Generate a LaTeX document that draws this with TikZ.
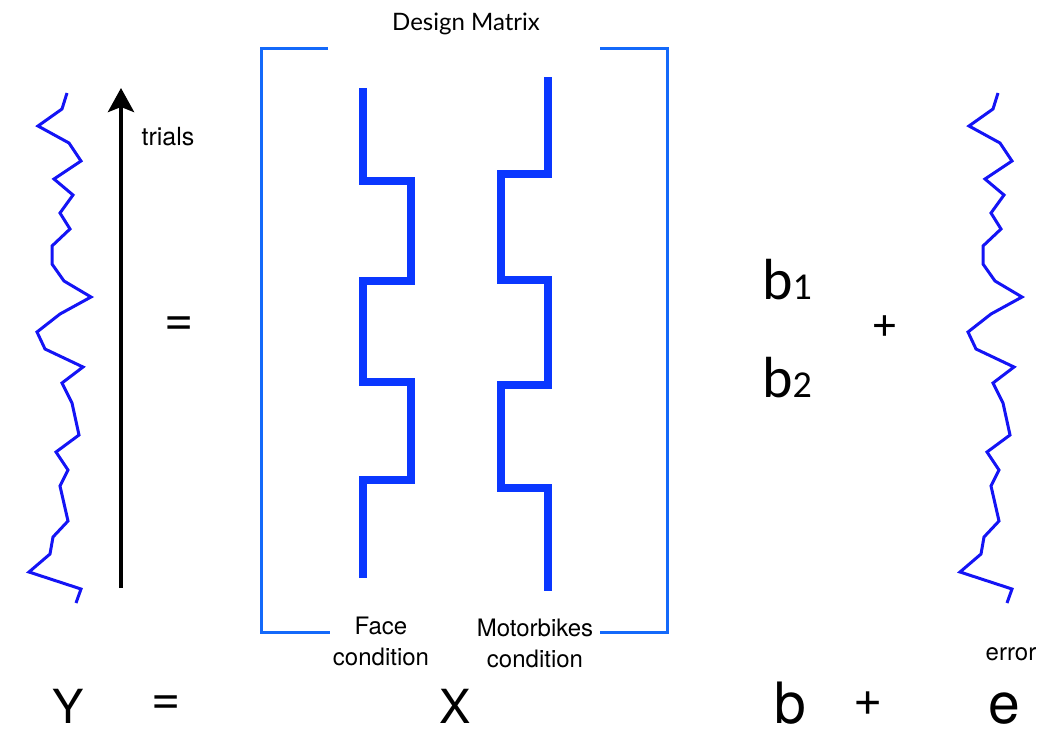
\documentclass[tikz,border=0pt]{standalone}
\usepackage{fontspec}
\setmainfont{TeX Gyre Heros}
\newfontfamily\gillfont{Lato}
\newfontfamily\calfont{Carlito}
\usetikzlibrary{arrows.meta}
\definecolor{signalblue}{RGB}{20,20,245}
\definecolor{bracketblue}{RGB}{20,105,250}
\definecolor{regblue}{RGB}{10,55,255}
\newcommand{\fsz}[1]{\fontsize{#1}{#1}\selectfont}

\begin{document}
\begin{tikzpicture}[x=1pt, y=-1pt]
        \tikzstyle{signal}=[signalblue, line width=3pt, line join=miter]
        \tikzstyle{bracket}=[bracketblue, line width=3pt, line join=miter]
        \tikzstyle{regressor}=[regblue, line width=8pt, line join=miter]
        \tikzstyle{label}=[inner sep=0pt, anchor=base]
        \tikzstyle{symbol}=[inner sep=0pt, anchor=center]
        \useasboundingbox (0,0) rectangle (1043,734);
        % measured signal (left) and error (right)
        \foreach \dx/\nm in {0pt/data, 931pt/noise}{
            \begin{scope}[xshift=\dx, local bounding box=\nm]
                \draw[signal] (67,93) -- (62,109) -- (38,126) -- (69,143) -- (81,161)
                    -- (54,179) -- (73,195) -- (60,213) -- (70,229) -- (52,246)
                    -- (52,264) -- (64,281) -- (91,297) -- (60,314) -- (37,332)
                    -- (45,349) -- (83,367) -- (62,383) -- (72,403) -- (79,435)
                    -- (56,452) -- (68,470) -- (60,486) -- (68,521) -- (53,537)
                    -- (50,554) -- (29,572) -- (81,589) -- (76,603);
            \end{scope}
        }
        \coordinate (trialsBottom) at (121,588);
        \coordinate (trialsTop) at (121,88);
        \draw[line width=4.5pt, -{Stealth[length=24pt, width=26pt, inset=5pt]}] (trialsBottom) -- (trialsTop);
        \node[label, font=\fsz{25}] (trials) at (168,145) {trials};
        \node[symbol, font=\fsz{50}] (eqTop) at (179,326) {=};
        % design matrix
        \begin{scope}[local bounding box=design]
            \draw[bracket] (328,48) -- (261,48) -- (261,632) -- (330,632);
            \draw[bracket] (600,48) -- (667,48) -- (667,632) -- (600,632);
            \draw[regressor] (363,88) -- (363,181) -- (411,181) -- (411,281) -- (363,281)
                -- (363,382) -- (411,382) -- (411,480) -- (363,480) -- (363,578);
            \draw[regressor] (548,77) -- (548,174) -- (501,174) -- (501,280) -- (548,280)
                -- (548,385) -- (501,385) -- (501,488) -- (548,488) -- (548,591);
        \end{scope}
        \node[label, font=\gillfont\fsz{24}] (title) at (466,30) {Design Matrix};
        \node[inner sep=0pt, anchor=north, align=center, font=\fontsize{24}{31}\selectfont] (face) at (381,617) {Face\\condition};
        \node[inner sep=0pt, anchor=north, align=center, font=\fontsize{24}{31}\selectfont] (motor) at (535,619) {Motorbikes\\condition};
        % betas
        \node[label, font=\calfont\fsz{58}] (bOne) at (787,299) {b\fsz{38}1};
        \node[label, font=\calfont\fsz{58}] (bTwo) at (787,397) {b\fsz{38}2};
        \node[symbol, font=\fsz{46}] (plusTop) at (885,327) {+};
        \node[label, font=\fsz{24}] (errLabel) at (1011,660) {error};
        % Y = X b + e
        \node[label, font=\fsz{47}] (Y) at (68,723) {Y};
        \node[symbol, font=\fsz{50}] (eqBottom) at (166,705) {=};
        \node[label, font=\fsz{47}] (X) at (455,723) {X};
        \node[label, font=\fsz{57}] (b) at (790,723) {b};
        \node[symbol, font=\fsz{50}] (plusBottom) at (868,704) {+};
        \node[label, font=\fsz{57}] (e) at (1004,723) {e};
\end{tikzpicture}
\end{document}
